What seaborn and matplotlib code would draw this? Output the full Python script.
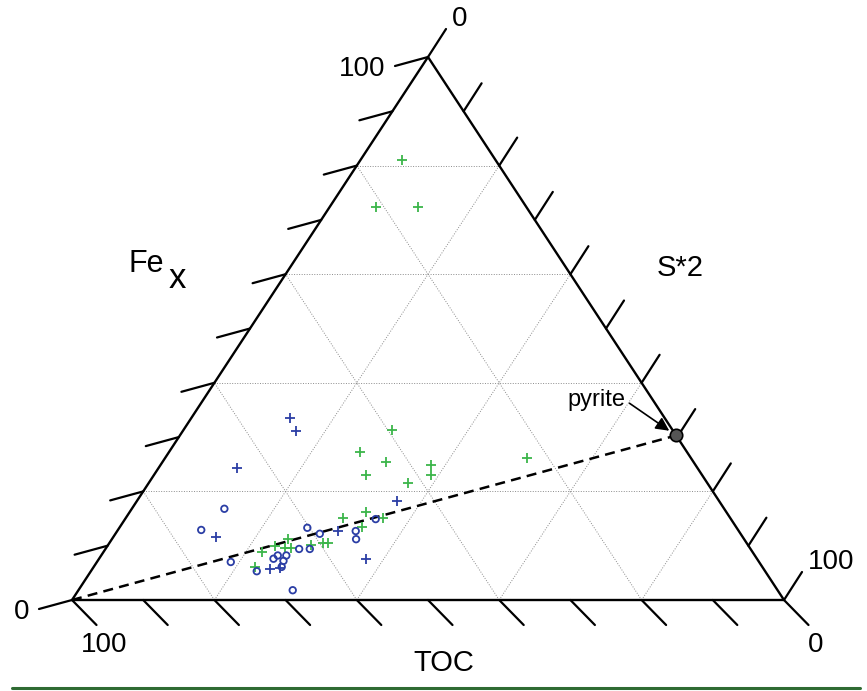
import numpy as np
import matplotlib
matplotlib.use('Agg')
import matplotlib.pyplot as plt
import seaborn as sns
from matplotlib.lines import Line2D

# compositions in percent: TOC, Fe_x, S*2
green_toc = [13.2, 21.1, 15.2, 39.4, 45.9, 43.2, 47.2, 42.1, 37.1, 38.1, 23.0, 50.6,
             54.4, 48.8, 52.5, 59.5, 58.8, 61.4, 64.1, 66.6, 68.9, 65.3, 64.4, 71.2]
green_fe = [81.0, 72.4, 72.4, 31.3, 27.3, 25.4, 23.0, 21.5, 24.9, 23.0, 26.2, 16.2,
            15.1, 15.1, 13.4, 10.5, 10.5, 10.1, 11.2, 9.9, 8.8, 9.6, 9.6, 6.1]
green_s = [5.8, 6.5, 12.4, 29.3, 26.8, 31.4, 29.8, 36.4, 38.0, 38.9, 50.8, 33.2,
           30.5, 36.1, 34.1, 30.0, 30.7, 28.5, 24.7, 23.5, 22.3, 25.1, 26.0, 22.7]

bplus_toc = [52.6, 53.0, 64.7, 74.0, 45.3, 56.3, 54.9, 69.3, 67.9]
bplus_fe = [33.5, 31.1, 24.3, 11.6, 18.2, 12.7, 7.6, 5.7, 5.9]
bplus_s = [13.9, 15.9, 11.0, 14.4, 36.5, 31.0, 37.5, 25.0, 26.2]

bcirc_toc = [70.2, 75.4, 74.2, 71.4, 68.1, 60.3, 59.1, 63.4, 61.9, 53.8, 54.5, 49.9,
             67.0, 65.8, 67.9, 66.7, 67.5]
bcirc_fe = [16.8, 12.9, 7.0, 5.3, 1.8, 13.3, 12.2, 9.4, 9.4, 12.7, 11.2, 14.9,
            8.2, 8.2, 7.6, 7.2, 6.1]
bcirc_s = [13.0, 11.7, 18.8, 23.3, 30.1, 26.4, 28.7, 27.2, 28.7, 33.5, 34.3, 35.2,
           24.8, 26.0, 24.5, 26.1, 26.4]

# pyrite (FeS2 by weight, S doubled)
pyrite = (0.0, 30.3, 69.7)

grid_vals = [0.2, 0.4, 0.6, 0.8]
tick_vals = [i / 10 for i in range(11)]

BLUE = '#2b3ea5'
GREEN = '#3cb54a'


def to_xy(toc, fe, s):
    toc, fe, s = (np.asarray(v, float) for v in (toc, fe, s))
    tot = toc + fe + s
    fe = fe / tot
    s = s / tot
    return s + 0.5 * fe, fe


sns.set_style('white')
plt.rcParams['font.family'] = ['Liberation Sans', 'DejaVu Sans']
plt.rcParams['text.color'] = 'black'

fig = plt.figure(figsize=(8.67, 6.91), dpi=100)
ax = fig.add_axes([72 / 867, 91 / 691, 712 / 867, 543 / 691])
ax.set_xlim(0, 1)
ax.set_ylim(0, 1)
ax.axis('off')

# grid
for v in grid_vals:
    for a, b in [((1 - v, v, 0), (0, v, 1 - v)),
                 ((1 - v, 0, v), (0, 1 - v, v)),
                 ((v, 0, 1 - v), (v, 1 - v, 0))]:
        x0, y0 = to_xy(*a)
        x1, y1 = to_xy(*b)
        ax.plot([x0, x1], [y0, y1], color='#8c8c8c', lw=0.7,
                linestyle=(0, (1, 1.6)), zorder=1)

# triangle
corners = [(1, 0, 0), (0, 0, 1), (0, 1, 0), (1, 0, 0)]
tx, ty = zip(*[to_xy(*c) for c in corners])
ax.plot(tx, ty, color='black', lw=1.7, clip_on=False, zorder=3)

# ticks
L = np.array([-33 / 712, -9 / 543])
R = np.array([18 / 712, 28 / 543])
B = np.array([24.5 / 712, -25 / 543])
for t in tick_vals:
    for comp, vec in [((1 - t, t, 0), L), ((0, 1 - t, t), R), ((t, 0, 1 - t), B)]:
        p = np.array(to_xy(*comp), float)
        q = p + vec
        ax.plot([p[0], q[0]], [p[1], q[1]], color='black', lw=1.6,
                clip_on=False, zorder=3)

tick_fs = 20
bl = np.array(to_xy(1, 0, 0), float)
br = np.array(to_xy(0, 0, 1), float)
top = np.array(to_xy(0, 1, 0), float)
for pos, txt in [(bl, '0'), (top, '100')]:
    q = pos + 1.3 * L
    ax.text(q[0], q[1], txt, ha='right', va='center', fontsize=tick_fs)
for pos, txt in [(top, '0'), (br, '100')]:
    q = pos + 1.35 * R
    ax.text(q[0], q[1], txt, ha='left', va='center', fontsize=tick_fs)
for pos, txt in [(bl, '100'), (br, '0')]:
    q = pos + 1.3 * B
    ax.text(q[0], q[1], txt, ha='center', va='top', fontsize=tick_fs)

# axis titles
ax.text(0.5225, -0.116, 'TOC', ha='center', va='center', fontsize=21)
ax.text(0.854, 0.611, 'S*2', ha='center', va='center', fontsize=21)
ax.text(0.1046, 0.6188, 'Fe', ha='center', va='center', fontsize=22)
ax.text(0.1485, 0.593, 'x', ha='center', va='center', fontsize=25)

# pyrite line
px, py = to_xy(*pyrite)
ax.plot([bl[0], float(px)], [bl[1], float(py)], color='black', lw=1.8,
        linestyle=(0, (4, 2.5)), zorder=2)

# data points
gx, gy = to_xy(green_toc, green_fe, green_s)
sns.scatterplot(x=gx, y=gy, ax=ax, marker='+', s=56, color=GREEN, linewidth=1.3, zorder=4)
ax.collections[-1].set_edgecolor(GREEN)

bx, by = to_xy(bplus_toc, bplus_fe, bplus_s)
sns.scatterplot(x=bx, y=by, ax=ax, marker='+', s=56, color=BLUE, linewidth=1.3, zorder=4)
ax.collections[-1].set_edgecolor(BLUE)

cx, cy = to_xy(bcirc_toc, bcirc_fe, bcirc_s)
sns.scatterplot(x=cx, y=cy, ax=ax, marker='o', s=22, color=BLUE, linewidth=1.3, zorder=4)
ax.collections[-1].set_facecolor('none')
ax.collections[-1].set_edgecolor(BLUE)

sns.scatterplot(x=[float(px)], y=[float(py)], ax=ax, marker='o', s=80, color='#555555',
                edgecolor='black', linewidth=1.2, zorder=5)
ax.collections[-1].set_clip_on(False)

ax.annotate('pyrite', xy=(float(px), float(py)), xytext=(0.736, 0.368),
            ha='center', va='center', fontsize=17,
            arrowprops=dict(arrowstyle='-|>', color='black', lw=1.2,
                            mutation_scale=20, shrinkA=1, shrinkB=6,
                            relpos=(1.0, 0.5)))

ax.set_xlim(0, 1)
ax.set_ylim(0, 1)

fig.add_artist(Line2D([12 / 867, 860 / 867], [1 - 687.7 / 691] * 2,
                      color='#2f6b33', lw=2.2))

fig.savefig('out.png', dpi=100)
